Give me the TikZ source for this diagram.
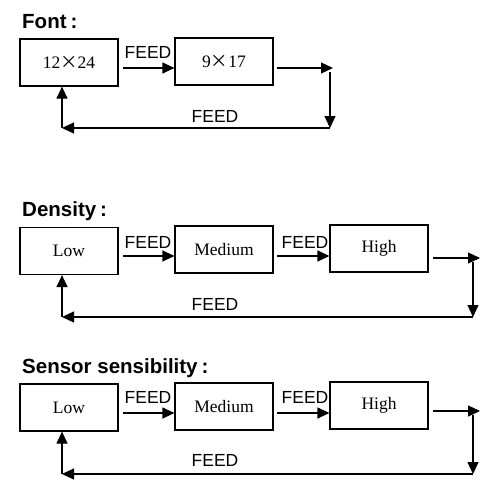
\documentclass[tikz,border=0pt]{standalone}
\usepackage{fontspec}
\setmainfont{Liberation Serif}
\setsansfont{Liberation Sans}
\newfontfamily\cjk[RawFeature=+fwid]{Noto Sans CJK SC}
\usetikzlibrary{arrows.meta}
\tikzset{
  box/.style={draw, line width=1.2pt, minimum width=98pt, minimum height=47pt, inner sep=0pt, font=\fontsize{17.5}{20}\selectfont},
  title/.style={anchor=base west, inner sep=0pt, font=\sffamily\bfseries\fontsize{20.5}{24}\selectfont},
  lbl/.style={anchor=base, inner sep=0pt, font=\sffamily\fontsize{17.5}{20}\selectfont},
  arr/.style={line width=1.2pt, -{Triangle[length=12pt,width=11pt]}},
}
\newcommand{\tms}{{\cjk\addfontfeature{FakeBold=0}×}}
\newcommand{\ttlcolon}{\kern4pt:}
\begin{document}
\begin{tikzpicture}[x=1pt,y=-1pt]
\useasboundingbox (0,0) rectangle (499,499);
% ---- Font
\node[title] (t1) at (22,28) {Font\ttlcolon};
\node[box] (f1) at (69,62.5) {12\tms24};
\node[box] (f2) at (224,61.5) {9\tms17};
\coordinate (fa) at (123,68);
\coordinate (fb) at (277,68);
\coordinate (fc) at (333,68);
\coordinate (fd) at (330,72);
\coordinate (fe) at (330,128);
\coordinate (ff) at (62,128);
\draw[arr] (fa) -- (f2.west |- fa);
\draw[arr] (fb) -- (fc);
\draw[arr] (fd) -- (fe);
\draw[arr] (fe) -- (ff);
\draw[arr] (ff) -- (ff |- f1.south);
\node[lbl] (fl1) at (148,58) {FEED};
\node[lbl] (fl2) at (215,122) {FEED};
% ---- Density
\node[title] (t2) at (22,216) {Density\ttlcolon};
\node[box] (d1) at (69,251) {Low};
\node[box] (d2) at (224,249.5) {Medium};
\node[box] (d3) at (379,248.5) {High};
\coordinate (da) at (123,256);
\coordinate (db) at (277,256);
\coordinate (dc) at (433,258);
\coordinate (dd) at (480,258);
\coordinate (de) at (473,262);
\coordinate (df) at (473,317);
\coordinate (dg) at (62,317);
\draw[arr] (da) -- (d2.west |- da);
\draw[arr] (db) -- (d3.west |- db);
\draw[arr] (dc) -- (dd);
\draw[arr] (de) -- (df);
\draw[arr] (df) -- (dg);
\draw[arr] (dg) -- (dg |- d1.south);
\node[lbl] (dl1) at (148,248) {FEED};
\node[lbl] (dl2) at (305,248) {FEED};
\node[lbl] (dl3) at (215,310) {FEED};
% ---- Sensor sensibility
\node[title] (t3) at (22,373) {Sensor sensibility\ttlcolon};
\node[box] (s1) at (69,407.5) {Low};
\node[box] (s2) at (224,406.5) {Medium};
\node[box] (s3) at (379,405.5) {High};
\coordinate (sa) at (123,413);
\coordinate (sb) at (277,413);
\coordinate (sc) at (433,411);
\coordinate (sd) at (480,411);
\coordinate (se) at (473,415);
\coordinate (sf) at (473,474);
\coordinate (sg) at (62,474);
\draw[arr] (sa) -- (s2.west |- sa);
\draw[arr] (sb) -- (s3.west |- sb);
\draw[arr] (sc) -- (sd);
\draw[arr] (se) -- (sf);
\draw[arr] (sf) -- (sg);
\draw[arr] (sg) -- (sg |- s1.south);
\node[lbl] (sl1) at (148,403) {FEED};
\node[lbl] (sl2) at (305,403) {FEED};
\node[lbl] (sl3) at (215,466) {FEED};
\end{tikzpicture}
\end{document}
